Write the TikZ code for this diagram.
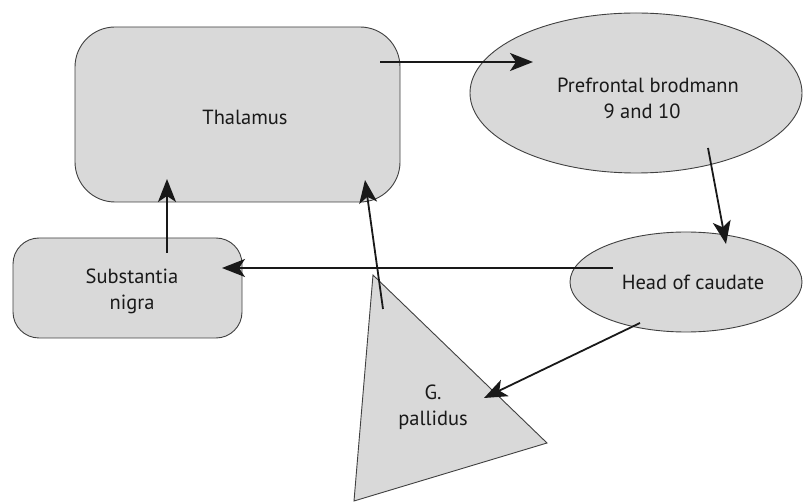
\documentclass[tikz,border=0pt]{standalone}
\usepackage{fontspec}
\setmainfont{PT Sans}
\usetikzlibrary{arrows.meta,shapes.geometric}
\tikzset{
  shapebox/.style={draw=black!75, line width=0.9pt, fill=gray!30},
  lbl/.style={font=\fontsize{20.5}{26}\selectfont, text=black!90, align=center, inner sep=0pt},
  conn/.style={line width=1.8pt, black!90, -{Stealth[length=23pt,width=18pt,inset=6pt]}}
}
\begin{document}
\begin{tikzpicture}[x=1pt,y=-1pt]
\useasboundingbox[fill=white] (0,0) rectangle (803,502);
% shapes
\draw[shapebox, rounded corners=40pt] (75,27) rectangle (400,202);
\node[lbl] (thal) at (245,117) {Thalamus};
\draw[shapebox, rounded corners=26pt] (13,238) rectangle (242,338);
\node[lbl] (sn) at (132,291) {Substantia\\nigra};
\node[shapebox, ellipse, minimum width=332pt, minimum height=160pt, inner sep=0pt] (pfc) at (636,93) {};
\node[lbl] (pfct) at (648,98) {Prefrontal brodmann\\\hspace*{-12pt}9 and 10};
\node[shapebox, ellipse, minimum width=232pt, minimum height=100pt, inner sep=0pt] (hoc) at (686,282) {};
\node[lbl] (hoct) at (693,282) {Head of caudate};
\draw[shapebox] (373,275) coordinate (gpt) -- (547,443) coordinate (gpr) -- (354,501) coordinate (gpb) -- cycle;
\node[lbl] (gp) at (433,407) {G.\\pallidus};
% connector end points
\coordinate (a1s) at (380,62);  \coordinate (a1e) at (533,62);
\coordinate (a2s) at (708,148); \coordinate (a2e) at (726,244);
\coordinate (a3s) at (613,268); \coordinate (a3e) at (222,268);
\coordinate (a4s) at (167,253); \coordinate (a4e) at (167,179);
\coordinate (a5s) at (383,309); \coordinate (a5e) at (365,180);
\coordinate (a6s) at (640,323); \coordinate (a6e) at (484,398);
% connectors
\draw[conn] (a1s) -- (a1e);
\draw[conn] (a2s) -- (a2e);
\draw[conn] (a3s) -- (a3e);
\draw[conn] (a4s) -- (a4e);
\draw[conn] (a5s) -- (a5e);
\draw[conn] (a6s) -- (a6e);
\end{tikzpicture}
\end{document}
